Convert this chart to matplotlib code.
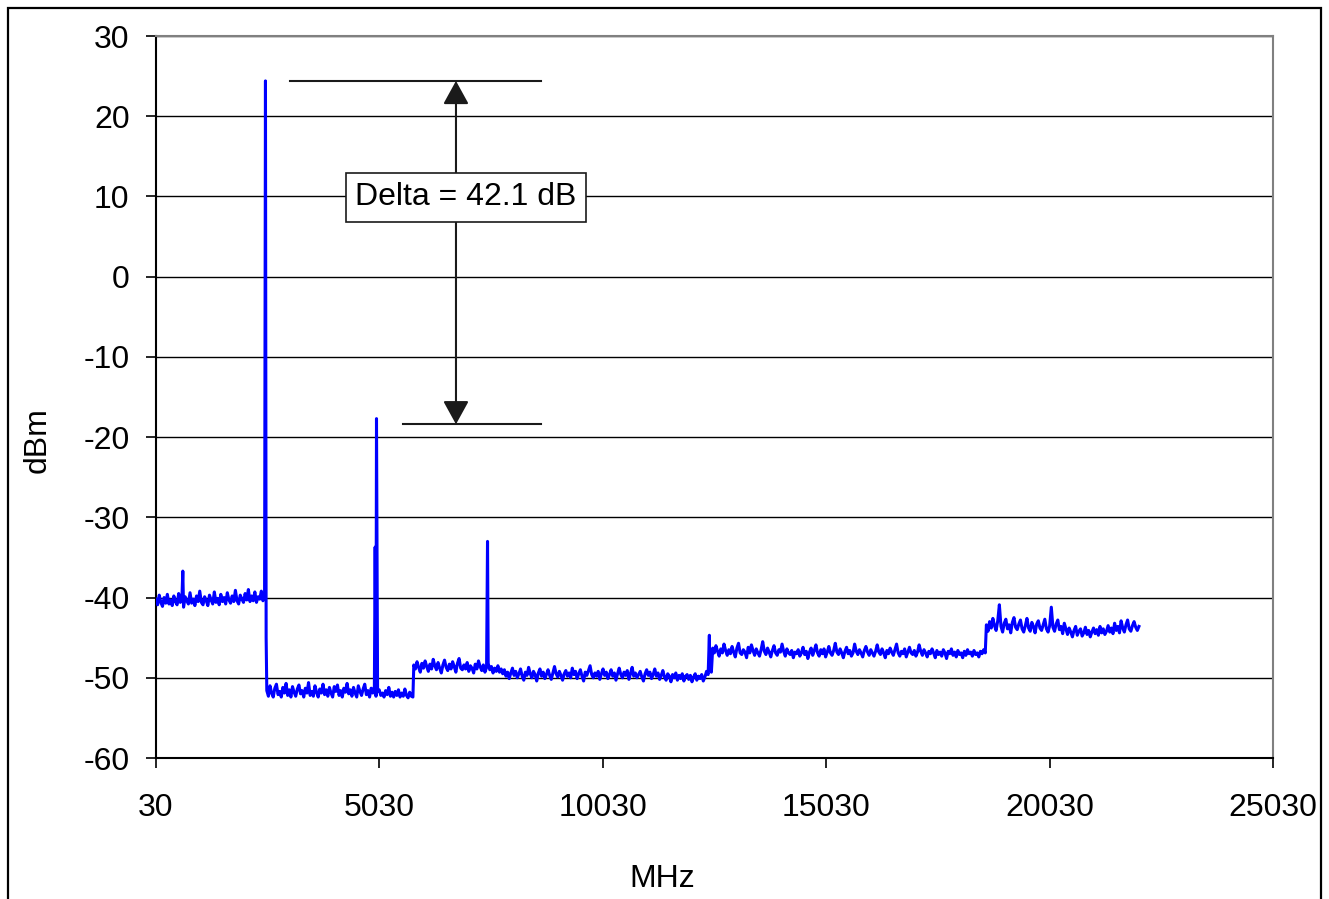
import matplotlib
matplotlib.use("Agg")
import matplotlib.pyplot as plt
import numpy as np
from matplotlib.patches import Rectangle

plt.rcParams["font.family"] = ["Liberation Sans", "DejaVu Sans"]
plt.rcParams["axes.unicode_minus"] = False

# noise floor segments, (start MHz, stop MHz), levels in dBm
seg1_range = (30, 2460)
seg1_dbm = [-40.2, -40.9, -39.7, -40.6, -41.1, -40.0, -40.7, -39.6, -40.8, -40.3,
            -41.0, -39.8, -40.5, -40.9, -39.5, -40.6, -40.1, -41.2, -39.9, -40.4,
            -40.8, -39.4, -40.7, -40.2, -41.0, -39.8, -40.5, -39.2, -40.6, -40.9,
            -39.9, -40.4, -41.0, -39.7, -40.3, -40.8, -39.3, -40.6, -40.1, -40.9,
            -39.6, -40.5, -40.0, -40.8, -39.4, -40.3, -40.7, -39.8, -40.5, -39.1,
            -40.4, -40.8, -39.7, -40.2, -40.6, -39.5, -40.3, -39.0, -40.5, -39.8,
            -40.4, -39.3, -40.6, -39.9, -40.2, -39.2, -40.4, -39.7]

seg2_range = (2510, 5780)
seg2_dbm = [-51.6, -52.3, -51.0, -51.9, -52.4, -51.3, -50.8, -52.1, -51.7, -52.4,
            -51.2, -51.9, -50.7, -52.2, -51.5, -52.4, -51.1, -51.8, -52.3, -51.4,
            -50.9, -52.0, -51.6, -52.4, -51.3, -51.9, -50.6, -52.2, -51.7, -52.3,
            -51.0, -51.8, -52.4, -51.4, -51.9, -50.8, -52.1, -51.5, -52.3, -51.2,
            -51.9, -52.4, -51.1, -51.7, -50.9, -52.2, -51.6, -52.4, -51.3, -51.8,
            -50.7, -52.0, -51.5, -52.3, -51.2, -51.9, -52.4, -51.0, -51.7, -52.2,
            -51.4, -50.8, -52.1, -51.6, -52.4, -51.3, -51.9, -51.1, -52.3, -51.7,
            -51.5, -52.2, -51.9, -52.4, -51.6, -52.1, -51.2, -52.3, -51.8, -52.4,
            -51.7, -52.2, -51.5, -52.4, -51.9, -52.3, -51.4, -52.2, -52.5, -51.8,
            -52.3, -52.4]

seg3_range = (5800, 12460)
seg3_dbm = [-48.4, -48.9, -48.0, -48.7, -49.3, -48.2, -48.8, -47.9, -48.6, -49.2,
            -48.3, -48.9, -47.7, -48.5, -49.0, -48.1, -48.8, -49.4, -48.4, -47.8,
            -48.7, -49.1, -48.3, -48.9, -48.0, -48.6, -49.3, -48.2, -47.6, -48.8,
            -49.0, -48.4, -48.9, -48.1, -49.2, -48.5, -48.8, -49.4, -48.3, -48.9,
            -47.9, -48.6, -49.1, -48.4, -49.3, -48.7, -48.2, -49.0, -48.6, -49.4,
            -48.8, -49.2, -48.5, -49.3, -48.9,
            -49.5, -49.0, -49.8, -49.3, -50.1, -49.4, -48.8, -49.7, -49.2, -50.0,
            -49.5, -48.9, -49.8, -50.3, -49.3, -49.7, -48.7, -49.5, -50.0, -49.2,
            -49.6, -50.4, -49.4, -48.9, -49.8, -49.3, -50.1, -49.6, -49.0, -49.7,
            -50.2, -49.4, -48.6, -49.5, -49.9, -49.2, -49.7, -50.3, -49.5, -49.1,
            -49.8, -49.4, -50.0, -48.8, -49.6, -49.2, -50.1, -49.5, -49.0, -49.8,
            -50.4, -49.3, -49.7, -49.1, -48.5, -49.6, -50.0, -49.4, -49.8, -49.2,
            -50.2, -49.5, -48.9, -49.7, -49.3, -50.1, -49.6, -49.0, -49.8, -49.4,
            -50.3, -49.5, -48.8, -49.6, -50.0, -49.3, -49.7, -49.1, -50.2, -49.5,
            -48.7, -49.8, -49.4, -50.0, -49.6, -49.2, -49.9, -50.4, -49.5, -49.0,
            -49.7, -49.3, -50.1, -49.6, -48.9, -49.8, -49.4, -50.2, -49.7, -49.1,
            -49.9, -50.3, -49.5, -49.8, -50.5, -49.6, -50.0, -49.4, -50.3, -49.7,
            -50.1, -49.5, -50.4, -49.8, -49.6, -50.2, -49.7, -50.5, -49.9, -49.5,
            -50.3, -49.8, -50.1, -49.6, -50.4, -49.9, -49.2, -49.6, -48.9, -49.3]

seg4_range = (12490, 18590)
seg4_dbm = [-46.3, -46.9, -46.0, -46.7, -47.3, -46.4, -46.9, -45.8, -46.6, -47.2,
            -46.5, -47.0, -46.1, -46.8, -47.4, -46.3, -45.7, -46.9, -47.1, -46.5,
            -46.8, -47.5, -46.2, -46.9, -45.9, -46.6, -47.2, -46.4, -46.9, -47.3,
            -46.5, -45.5, -46.7, -47.1, -46.3, -46.8, -47.4, -46.6, -46.0, -46.9,
            -47.2, -46.5, -46.8, -45.8, -46.7, -47.3, -46.4, -46.9, -47.1, -46.6,
            -47.5, -46.8, -47.0, -46.5, -47.3, -46.9, -46.2, -47.1, -46.7, -47.6,
            -46.8, -46.3, -47.2, -46.6, -45.9, -46.9, -47.3, -46.5, -47.0, -46.4,
            -47.4, -46.8, -46.1, -46.9, -47.2, -46.6, -45.7, -46.8, -47.1, -46.4,
            -46.9, -47.5, -46.7, -46.2, -47.0, -46.6, -47.3, -46.9, -45.8, -46.7,
            -47.1, -46.5, -46.9, -47.4, -46.6, -46.1, -46.8, -47.2, -46.5, -46.9,
            -47.3, -46.7, -45.9, -46.8, -47.1, -46.4, -46.9, -47.5, -46.6, -47.0,
            -46.3, -46.8, -47.2, -46.5, -45.8, -46.9, -47.3, -46.7, -47.0, -46.4,
            -47.4, -46.8, -46.2, -46.9, -47.1, -46.6, -47.3, -46.8, -45.9, -46.7,
            -47.2, -46.5, -46.9, -47.4, -46.7, -47.0, -46.4, -46.9, -47.5, -46.6,
            -47.1, -46.8, -47.3, -46.5, -46.9, -47.6, -46.7, -47.0, -46.4, -47.2,
            -46.8, -47.4, -46.6, -47.1, -46.9, -47.5, -46.7, -47.2, -46.5, -47.0,
            -46.8, -47.3, -46.6, -47.1, -46.9, -47.4, -46.7, -47.0, -46.5, -46.9]

seg5_range = (18615, 22030)
seg5_dbm = [-43.4, -44.2, -43.0, -43.8, -42.6, -43.5, -44.1, -42.9, -40.9, -43.6,
            -44.3, -43.2, -42.7, -43.9, -43.4, -44.4, -43.1, -42.5, -43.7, -44.0,
            -43.3, -42.8, -43.9, -44.3, -43.5, -42.6, -43.8, -44.2, -43.1, -43.6,
            -44.4, -43.3, -42.9, -43.8, -44.1, -43.4, -42.7, -43.9, -44.3, -43.5,
            -41.2, -43.7, -44.2, -43.3, -42.8, -44.0, -43.6, -44.5, -43.2, -43.9,
            -44.6, -43.8, -44.3, -44.9, -44.1, -43.6, -44.7, -44.2, -43.9, -44.8,
            -44.4, -43.7, -44.6, -44.1, -44.9, -44.3, -43.8, -44.5, -44.0, -44.7,
            -43.6, -44.4, -43.9, -44.6, -44.2, -43.5, -44.3, -43.8, -44.5, -43.2,
            -44.1, -43.6, -44.4, -42.9, -43.8, -44.3, -43.4, -42.8, -43.9, -44.2,
            -43.5, -43.0, -43.7, -44.1, -43.6]

# discrete spurs / carrier and harmonics
spike_mhz = [630, 2480, 2495, 4935, 4965, 7450, 12415]
spike_dbm = [-36.7, 24.4, -45.0, -33.7, -17.7, -33.0, -44.7]

x_ticks = [30, 5030, 10030, 15030, 20030, 25030]
y_ticks = [-60, -50, -40, -30, -20, -10, 0, 10, 20, 30]

# marker lines for the delta annotation
top_marker = (3030, 8650, 24.4)
bottom_marker = (5560, 8650, -18.4)
arrow_mhz = 6744
delta_text = "Delta = 42.1 dB"

FS = 23


def build_trace():
    segments = [(seg1_range, seg1_dbm), (seg2_range, seg2_dbm),
                (seg3_range, seg3_dbm), (seg4_range, seg4_dbm),
                (seg5_range, seg5_dbm)]
    f_all, p_all = [], []
    for (f0, f1), vals in segments:
        f_all.append(np.linspace(f0, f1, len(vals)))
        p_all.append(np.array(vals))
    f_all.append(np.array(spike_mhz, dtype=float))
    p_all.append(np.array(spike_dbm))
    f = np.concatenate(f_all)
    p = np.concatenate(p_all)
    order = np.argsort(f, kind="stable")
    return f[order], p[order]


def main():
    fig = plt.figure(figsize=(13.29, 8.99), dpi=100)
    ax = fig.add_axes([156 / 1329, 1 - 758 / 899, 1117 / 1329, 722 / 899])

    f, p = build_trace()
    ax.plot(f, p, color="#0000ff", lw=2.2, zorder=3)

    ax.set_xlim(30, 25030)
    ax.set_ylim(-60, 30)
    ax.set_xticks(x_ticks)
    ax.set_yticks(y_ticks)
    ax.yaxis.grid(True, color="black", lw=1.0)
    ax.tick_params(axis="both", direction="out", length=7.5, width=1.2,
                   labelsize=FS, colors="black")
    ax.tick_params(axis="x", pad=18)
    ax.tick_params(axis="y", pad=11.5)

    for side in ("left", "bottom"):
        ax.spines[side].set_color("black")
        ax.spines[side].set_linewidth(1.5)
    for side in ("top", "right"):
        ax.spines[side].set_color("#808080")
        ax.spines[side].set_linewidth(1.5)

    ax.set_xlabel("MHz", fontsize=FS)
    ax.xaxis.set_label_coords(0.453, -0.167)
    ax.xaxis.label.set_va("center")
    ax.set_ylabel("dBm", fontsize=FS)
    ax.yaxis.set_label_coords(-0.106, 0.44)
    ax.yaxis.label.set_va("center")

    # delta annotation
    for x0, x1, y in (top_marker, bottom_marker):
        ax.plot([x0, x1], [y, y], color="#1a1a1a", lw=1.5, zorder=4)
    ax.annotate("", xy=(arrow_mhz, top_marker[2]), xytext=(arrow_mhz, bottom_marker[2]),
                arrowprops=dict(arrowstyle="<|-|>,head_length=0.4,head_width=0.22",
                                mutation_scale=36, color="#1a1a1a", lw=1.5,
                                shrinkA=0, shrinkB=0), zorder=4)
    ax.text(6968, 9.87, delta_text, fontsize=FS, ha="center", va="center", zorder=5,
            bbox=dict(boxstyle="square,pad=0.3", fc="white", ec="#1a1a1a", lw=1.2))

    # outer chart border (bottom edge falls outside the image)
    fig.add_artist(Rectangle((7.5 / 1329, -0.02), 1313 / 1329, 1.02 - 8.5 / 899,
                             transform=fig.transFigure, fill=False,
                             ec="black", lw=1.6))

    fig.savefig("out.png", dpi=100)


if __name__ == "__main__":
    main()
